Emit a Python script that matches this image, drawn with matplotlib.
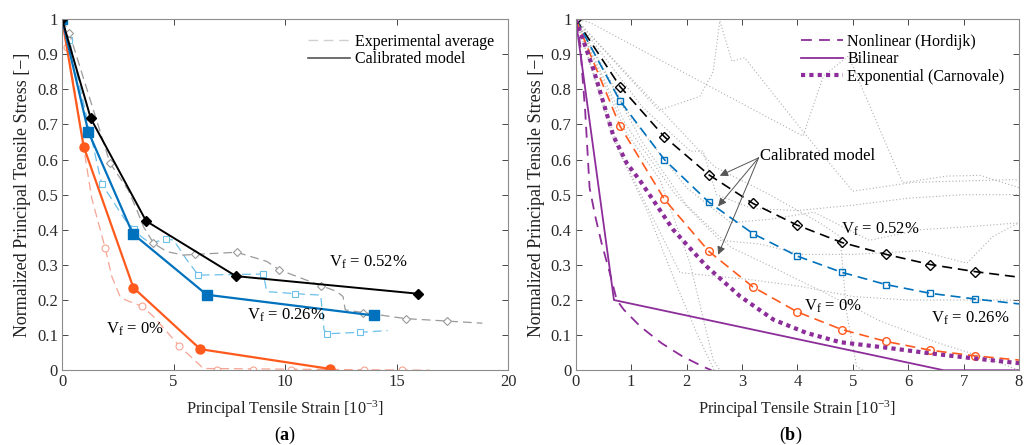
import numpy as np
import matplotlib
import matplotlib.pyplot as plt

matplotlib.use("Agg")

plt.rcParams["font.family"] = ["Liberation Serif", "DejaVu Serif"]
plt.rcParams["mathtext.fontset"] = "custom"
plt.rcParams["mathtext.rm"] = "Liberation Serif"
plt.rcParams["mathtext.it"] = "Liberation Serif:italic"
plt.rcParams["mathtext.bf"] = "Liberation Serif:bold"

# ---- panel (a): experimental averages (dashed, hollow markers) ----
exp0_x = [0, 0.21, 0.51, 1.33, 1.94, 2.23, 2.6, 2.85, 3.59, 4.1, 5.26, 6.34, 16.5]
exp0_y = [1, 0.92, 0.82, 0.49, 0.347, 0.267, 0.21, 0.2, 0.182, 0.153, 0.069, 0.005, 0]
exp0_mx = [0.21, 1.94, 3.59, 5.26, 6.94, 8.58, 10.25, 11.91, 13.56, 15.23]
exp0_my = [0.92, 0.347, 0.182, 0.069, 0, 0, 0, 0, 0, 0]

exp26_x = [0, 0.33, 1.78, 2.15, 2.83, 3.24, 3.56, 3.95, 4.66, 5.0, 5.6, 6.11,
           9.03, 9.18, 10.46, 11.6, 11.75, 11.9, 13.36, 14.6]
exp26_y = [1, 0.94, 0.53, 0.495, 0.428, 0.402, 0.38, 0.362, 0.373, 0.371, 0.314, 0.271,
           0.274, 0.224, 0.218, 0.214, 0.115, 0.104, 0.108, 0.113]
exp26_mx = [0.33, 1.78, 3.24, 4.66, 6.11, 9.03, 10.46, 11.9, 13.36]
exp26_my = [0.94, 0.53, 0.402, 0.373, 0.271, 0.274, 0.218, 0.104, 0.108]

exp52_x = [0, 0.33, 2.15, 2.97, 3.35, 3.65, 4.1, 4.69, 5.44, 5.96, 7.83, 9.18, 9.74,
           11.61, 12.3, 12.6, 12.7, 13.51, 15.41, 17.28, 18.85]
exp52_y = [1, 0.96, 0.59, 0.513, 0.457, 0.409, 0.362, 0.338, 0.328, 0.33, 0.336, 0.31, 0.286,
           0.241, 0.225, 0.21, 0.172, 0.164, 0.147, 0.14, 0.134]
exp52_mx = [0.33, 2.15, 4.1, 5.96, 7.83, 9.74, 11.61, 13.51, 15.41, 17.28]
exp52_my = [0.96, 0.59, 0.362, 0.33, 0.336, 0.286, 0.241, 0.164, 0.147, 0.14]

# ---- panel (a): calibrated multilinear model ----
cal0_x = [0, 0.97, 3.2, 6.2, 12.0]
cal0_y = [1, 0.637, 0.235, 0.06, 0.004]
cal26_x = [0, 1.18, 3.17, 6.49, 13.98]
cal26_y = [1, 0.679, 0.389, 0.215, 0.156]
cal52_x = [0, 1.29, 3.77, 7.8, 15.96]
cal52_y = [1, 0.717, 0.425, 0.268, 0.218]

# ---- panel (b): calibrated curves (markers every 0.8e-3) ----
strain_b = [0, 0.8, 1.6, 2.4, 3.2, 4.0, 4.8, 5.6, 6.4, 7.2, 8.0]
calb52 = [1, 0.808, 0.665, 0.557, 0.475, 0.413, 0.364, 0.33, 0.301, 0.281, 0.265]
calb26 = [1, 0.767, 0.600, 0.479, 0.389, 0.325, 0.279, 0.244, 0.219, 0.203, 0.189]
calb0 = [1, 0.695, 0.487, 0.339, 0.237, 0.166, 0.116, 0.082, 0.057, 0.041, 0.029]

# ---- panel (b): literature softening laws ----
hord_x = [0, 0.08, 0.12, 0.17, 0.21, 0.25, 0.35, 0.47, 0.61, 0.74, 0.87, 1.17, 1.55, 1.91, 2.3, 2.45]
hord_y = [1, 0.93, 0.84, 0.74, 0.63, 0.52, 0.44, 0.36, 0.28, 0.2, 0.172, 0.124, 0.077, 0.041, 0.01, 0]
bilin_x = [0, 0.69, 6.64, 8.0]
bilin_y = [1, 0.2, 0, 0]
expo_x = [0, 0.32, 0.5, 0.68, 0.92, 1.16, 1.76, 2.36, 2.97, 3.57, 4.17, 4.77, 5.67, 6.4, 7.17, 8.0]
expo_y = [1, 0.857, 0.762, 0.667, 0.59, 0.54, 0.40, 0.296, 0.21, 0.144, 0.106, 0.08, 0.063, 0.048, 0.034, 0.02]

# ---- panel (b): individual specimen curves (gray dotted) ----
spec1_x = [0, 1.5, 2.24, 2.48, 2.6, 2.82, 3.05, 3.6, 4.17, 5.0, 6.09, 7.9, 8.0]
spec1_y = [1, 0.74, 0.78, 0.85, 0.995, 0.88, 0.89, 0.78, 0.667, 0.51, 0.535, 0.543, 0.54]
spec2_x = [0, 0.26, 4.1, 4.47, 4.92, 5.9, 6.7, 7.3, 8.0]
spec2_y = [1, 0.99, 0.667, 0.838, 0.895, 0.534, 0.553, 0.555, 0.52]
spec3_x = [0, 1.2, 2.07, 2.3, 2.54, 3.2, 4.0, 5.0, 6.0, 7.0, 8.0]
spec3_y = [1, 0.75, 0.624, 0.624, 0.5, 0.46, 0.455, 0.47, 0.49, 0.5, 0.5]
spec4_x = [0, 1.0, 2.0, 2.8, 3.5, 4.3, 5.3, 6.2, 7.2, 8.0]
spec4_y = [1, 0.72, 0.52, 0.42, 0.43, 0.45, 0.37, 0.4, 0.41, 0.42]
spec5_x = [0, 0.9, 1.8, 2.6, 3.3, 4.1, 5.0, 6.2, 7.06, 7.53, 8.0]
spec5_y = [1, 0.7, 0.5, 0.37, 0.36, 0.33, 0.33, 0.34, 0.305, 0.381, 0.42]
spec6_x = [0, 0.8, 1.5, 1.88, 3.15, 4.05, 5.0, 6.0, 7.0, 8.0]
spec6_y = [1, 0.62, 0.4, 0.278, 0.258, 0.239, 0.21, 0.2, 0.2, 0.2]
spec7_x = [0, 0.9, 1.52, 2.06, 2.48, 2.6]
spec7_y = [1, 0.68, 0.543, 0.306, 0.03, 0]
spec8_x = [0, 0.7, 1.3, 1.8, 2.2, 2.5]
spec8_y = [1, 0.65, 0.45, 0.25, 0.1, 0]
spec9_x = [0, 2.5, 3.5, 4.4, 4.77, 4.89, 5.07, 5.2]
spec9_y = [1, 0.58, 0.5, 0.42, 0.381, 0.163, 0.01, 0]
spec10_x = [0, 1.2, 2.0, 2.8, 3.6, 4.5, 5.5, 6.5, 7.5, 8.0]
spec10_y = [1, 0.65, 0.47, 0.35, 0.29, 0.22, 0.14, 0.08, 0.03, 0]

RED = "#FF5A1E"
BLUE = "#0072BD"
LRED = "#F7A493"
LBLUE = "#6CC0EA"
GRAY = "#9A9A9A"
PURPLE = "#8C2D99"


def matlab_axes(ax, xmax, xstep):
    ax.set_xlim(0, xmax)
    ax.set_ylim(0, 1)
    ax.set_xticks(np.arange(0, xmax + 0.01, xstep))
    ax.set_yticks(np.round(np.arange(0, 1.01, 0.1), 1))
    ax.set_yticklabels(["0"] + ["%.1f" % v for v in np.arange(0.1, 0.95, 0.1)] + ["1"])
    ax.tick_params(direction="in", top=True, right=True, labelsize=12,
                   colors="#2A2A2A", length=4, width=0.6, pad=3)
    for sp in ax.spines.values():
        sp.set_color("#8C8C8C")
        sp.set_linewidth(0.8)
    ax.set_xlabel("Principal Tensile Strain [10$^{-3}$]", fontsize=11.7, color="#222222",
                  labelpad=6)
    ax.set_ylabel("Normalized Principal Tensile Stress [\u2212]", fontsize=13, color="#222222",
                  labelpad=4)


fig = plt.figure(figsize=(10.29, 4.45), dpi=100)
ax1 = fig.add_axes([0.0603, 0.168, 0.4334, 0.789])
ax2 = fig.add_axes([0.5595, 0.168, 0.4308, 0.789])

# ---------- (a) ----------
dash = (0, (7, 4))
for x, y, mx, my, c, m in [
    (exp0_x, exp0_y, exp0_mx, exp0_my, LRED, "o"),
    (exp26_x, exp26_y, exp26_mx, exp26_my, LBLUE, "s"),
    (exp52_x, exp52_y, exp52_mx, exp52_my, GRAY, "D"),
]:
    ax1.plot(x, y, linestyle=dash, color=c, linewidth=0.9)
    ax1.plot(mx, my, linestyle="none", marker=m, markersize=5 if m != "D" else 4.5,
             markerfacecolor="white", markeredgecolor=c, markeredgewidth=0.8)

ax1.plot(cal0_x, cal0_y, "-o", color=RED, linewidth=1.6, markersize=6.5)
ax1.plot(cal26_x, cal26_y, "-s", color=BLUE, linewidth=1.6, markersize=6.5)
ax1.plot(cal52_x, cal52_y, "-D", color="black", linewidth=1.4, markersize=5.5)

ax1.plot([], [], linestyle=dash, color="#D0D0D0", linewidth=1.0, label="Experimental average")
ax1.plot([], [], "-", color="#555555", linewidth=1.2, label="Calibrated model")
ax1.legend(loc="upper right", frameon=False, fontsize=11.5, handlelength=2.6,
           handletextpad=0.3, borderaxespad=0.5, labelspacing=0.1)

ax1.text(11.95, 0.295, "V$_{\\rm f}$ = 0.52%", fontsize=12)
ax1.text(8.3, 0.143, "V$_{\\rm f}$ = 0.26%", fontsize=12)
ax1.text(1.95, 0.103, "V$_{\\rm f}$ = 0%", fontsize=12)
matlab_axes(ax1, 20, 5)

# ---------- (b) ----------
for x, y in [(spec1_x, spec1_y), (spec2_x, spec2_y), (spec3_x, spec3_y),
             (spec4_x, spec4_y), (spec5_x, spec5_y), (spec6_x, spec6_y),
             (spec7_x, spec7_y), (spec8_x, spec8_y), (spec9_x, spec9_y),
             (spec10_x, spec10_y)]:
    ax2.plot(x, y, linestyle=(0, (1, 2)), color="#B0B0B0", linewidth=0.8)

bdash = (0, (6, 3.5))
ax2.plot(strain_b, calb52, linestyle=bdash, color="black", linewidth=1.2,
         marker="D", markersize=5, markerfacecolor="none", markevery=range(1, 10))
ax2.plot(strain_b, calb26, linestyle=bdash, color=BLUE, linewidth=1.2,
         marker="s", markersize=4.5, markerfacecolor="none", markevery=range(1, 10))
ax2.plot(strain_b, calb0, linestyle=bdash, color=RED, linewidth=1.2,
         marker="o", markersize=5.5, markerfacecolor="none", markevery=range(1, 10))
ax2.plot([0], [1], marker="D", markersize=5, color="black", markerfacecolor="none")

ax2.plot(hord_x, hord_y, linestyle=(0, (6, 4)), color=PURPLE, linewidth=1.3,
         label="Nonlinear (Hordijk)")
ax2.plot(bilin_x, bilin_y, "-", color=PURPLE, linewidth=1.3, label="Bilinear")
ax2.plot(expo_x, expo_y, linestyle=(0, (1, 1)), color=PURPLE, linewidth=3.0,
         label="Exponential (Carnovale)")
ax2.legend(loc="upper right", frameon=False, fontsize=11.5, handlelength=2.6,
           handletextpad=0.3, borderaxespad=0.5, labelspacing=0.1)

for tip in [(2.6, 0.554), (2.57, 0.467), (2.57, 0.329)]:
    ax2.annotate("", xy=tip, xytext=(3.3, 0.605),
                 arrowprops=dict(arrowstyle="-|>", color="#555555", lw=0.7,
                                 mutation_scale=12, shrinkA=0, shrinkB=0))
ax2.text(3.33, 0.61, "Calibrated model", fontsize=12, va="center")

ax2.text(4.78, 0.39, "V$_{\\rm f}$ = 0.52%", fontsize=12)
ax2.text(4.12, 0.17, "V$_{\\rm f}$ = 0%", fontsize=12)
ax2.text(6.42, 0.135, "V$_{\\rm f}$ = 0.26%", fontsize=12)
matlab_axes(ax2, 8, 1)

fig.text(0.277, 0.012, "($\\mathbf{a}$)", ha="center", fontsize=13)
fig.text(0.768, 0.012, "($\\mathbf{b}$)", ha="center", fontsize=13)

plt.savefig("out.png", dpi=100)
plt.close()
